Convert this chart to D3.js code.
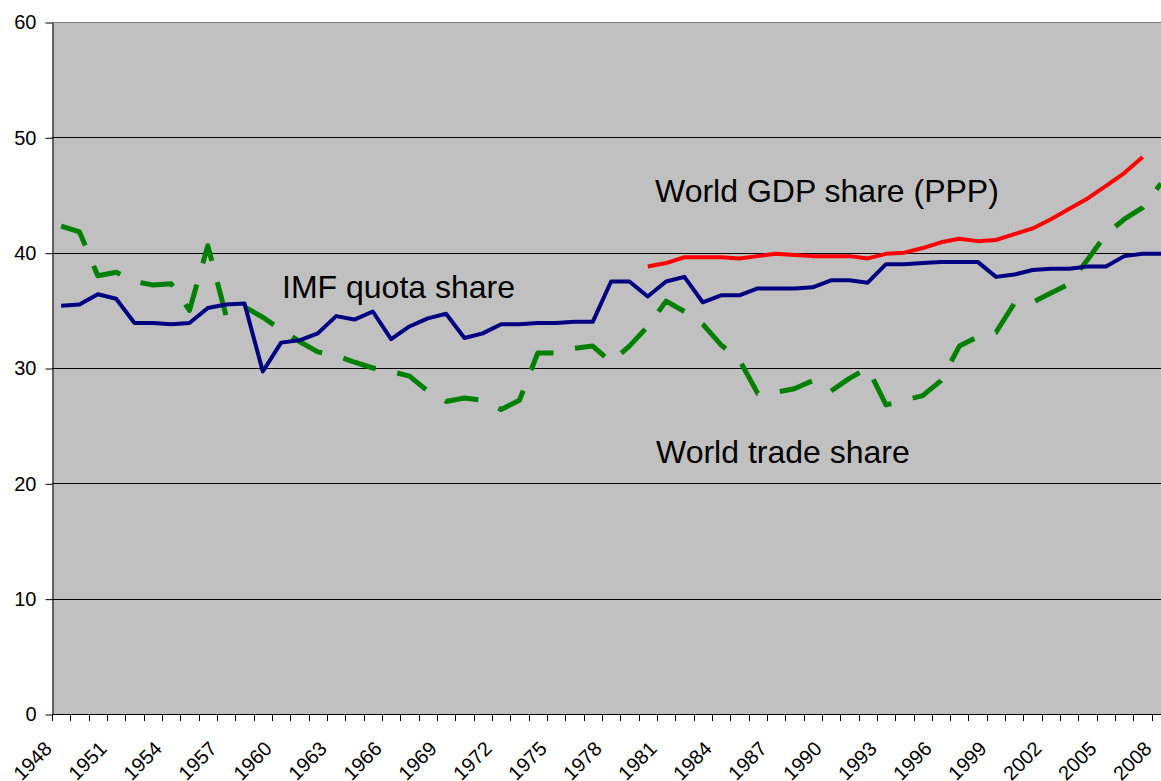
<!DOCTYPE html>
<html>
<head>
<meta charset="utf-8">
<script src="https://cdn.jsdelivr.net/npm/d3@7"></script>
<style>
  html, body { margin: 0; padding: 0; background: #fff; overflow: hidden; }
  svg { display: block; font-family: "Liberation Sans", Arial, sans-serif; }
</style>
</head>
<body>
<div id="chart"></div>
<script>
// categories (one per year, the last one is an empty slot cut off at the right edge)
var years = [1948, 1949, 1950, 1951, 1952, 1953, 1954, 1955, 1956, 1957,
  1958, 1959, 1960, 1961, 1962, 1963, 1964, 1965, 1966, 1967,
  1968, 1969, 1970, 1971, 1972, 1973, 1974, 1975, 1976, 1977,
  1978, 1979, 1980, 1981, 1982, 1983, 1984, 1985, 1986, 1987,
  1988, 1989, 1990, 1991, 1992, 1993, 1994, 1995, 1996, 1997,
  1998, 1999, 2000, 2001, 2002, 2003, 2004, 2005, 2006, 2007,
  2008, 2009];

var tickLabels = ['1948', '1951', '1954', '1957', '1960', '1963', '1966', '1969',
  '1972', '1975', '1978', '1981', '1984', '1987', '1990', '1993', '1996', '1999',
  '2002', '2005', '2008'];

var yTicks = [0, 10, 20, 30, 40, 50, 60];

// shares in percent, 1948 .. 2008
var imfQuota = [35.4, 35.5, 36.4, 36.0, 33.9, 33.9, 33.8, 33.9, 35.2, 35.5,
  35.6, 29.7, 32.2, 32.4, 33.0, 34.5, 34.2, 34.9, 32.5, 33.6,
  34.3, 34.7, 32.6, 33.0, 33.8, 33.8, 33.9, 33.9, 34.0, 34.0,
  37.5, 37.5, 36.2, 37.5, 37.9, 35.7, 36.3, 36.3, 36.9, 36.9,
  36.9, 37.0, 37.6, 37.6, 37.4, 39.0, 39.0, 39.1, 39.2, 39.2,
  39.2, 37.9, 38.1, 38.5, 38.6, 38.6, 38.8, 38.8, 39.7, 39.9,
  39.9];

var worldTrade = [42.3, 41.8, 38.0, 38.3, 37.5, 37.2, 37.3, 35.0, 40.6, 34.5,
  35.3, 34.4, 33.3, 32.3, 31.4, 31.1, 30.5, 30.0, 29.7, 29.3,
  28.0, 27.1, 27.4, 27.2, 26.4, 27.2, 31.3, 31.3, 31.7, 31.9,
  30.5, 31.9, 33.6, 35.8, 34.9, 33.8, 32.0, 30.7, 27.8, 27.9,
  28.2, 28.9, 28.0, 29.1, 30.0, 26.8, 27.2, 27.6, 28.9, 31.9,
  32.7, 33.1, 35.6, 35.7, 36.5, 37.3, 39.4, 41.6, 42.9, 43.9,
  46.0];

// PPP series only starts in 1980
var worldGdp = [null, null, null, null, null, null, null, null, null, null,
  null, null, null, null, null, null, null, null, null, null,
  null, null, null, null, null, null, null, null, null, null,
  null, null, 38.8, 39.1, 39.6, 39.6, 39.6, 39.5, 39.7, 39.9,
  39.8, 39.7, 39.7, 39.7, 39.5, 39.9, 40.0, 40.4, 40.9, 41.2,
  41.0, 41.1, 41.6, 42.1, 42.9, 43.8, 44.7, 45.8, 46.9, 48.3];

var width = 1161;
var height = 781;
var margins = { top: 22, left: 52, bottom: 67 };
var bandWidth = 18.33;

var svg = d3.select('#chart').append('svg')
  .attr('width', width)
  .attr('height', height);

var x = d3.scaleBand()
  .domain(years)
  .range([margins.left, margins.left + years.length * bandWidth])
  .padding(0);

var y = d3.scaleLinear()
  .domain([0, 60])
  .range([height - margins.bottom, margins.top]);

var plotRight = x.range()[1];

function cx(year) {
  return x(year) + x.bandwidth() / 2;
}

// plot area background
svg.append('rect')
  .attr('x', margins.left)
  .attr('y', y(60))
  .attr('width', plotRight - margins.left)
  .attr('height', y(0) - y(60))
  .attr('fill', '#c0c0c0');

// gridlines
svg.append('g')
  .selectAll('line')
  .data(yTicks.filter(function(d) { return d > 0; }))
  .enter().append('line')
  .attr('x1', margins.left)
  .attr('x2', plotRight)
  .attr('y1', function(d) { return Math.round(y(d)) + 0.5; })
  .attr('y2', function(d) { return Math.round(y(d)) + 0.5; })
  .attr('stroke', function(d) { return d === 60 ? '#808080' : '#000'; })
  .attr('stroke-width', 1);

// y axis
var yAxis = d3.axisLeft(y)
  .tickValues(yTicks)
  .tickSizeInner(7)
  .tickSizeOuter(0)
  .tickPadding(9);

var yAxisG = svg.append('g')
  .attr('transform', 'translate(' + (margins.left + 0.5) + ',0.5)')
  .call(yAxis);
yAxisG.selectAll('text')
  .attr('font-size', 20)
  .attr('font-family', '"Liberation Sans", Arial, sans-serif')
  .attr('fill', '#000');
yAxisG.selectAll('line, path').attr('stroke', '#000');

// x axis: ticks sit between categories
var x0 = y(0);
svg.append('line')
  .attr('x1', margins.left)
  .attr('x2', plotRight)
  .attr('y1', Math.round(x0) + 0.5)
  .attr('y2', Math.round(x0) + 0.5)
  .attr('stroke', '#000');

svg.append('g')
  .selectAll('line')
  .data(years)
  .enter().append('line')
  .attr('x1', function(d) { return Math.round(x(d)) + 0.5; })
  .attr('x2', function(d) { return Math.round(x(d)) + 0.5; })
  .attr('y1', Math.round(x0))
  .attr('y2', Math.round(x0) + 7)
  .attr('stroke', '#000');

svg.append('g')
  .selectAll('text')
  .data(tickLabels)
  .enter().append('text')
  .attr('transform', function(d) {
    return 'translate(' + (cx(+d) - 8) + ',' + (x0 + 36) + ') rotate(-45)';
  })
  .attr('text-anchor', 'end')
  .attr('font-size', 20)
  .attr('fill', '#000')
  .text(function(d) { return d; });

// series
function drawLine(values, color, dash, strokeWidth) {
  var line = d3.line()
    .defined(function(d) { return d != null; })
    .x(function(d, i) { return cx(years[i]); })
    .y(function(d) { return y(d); });

  svg.append('path')
    .datum(values)
    .attr('d', line)
    .attr('fill', 'none')
    .attr('stroke', color)
    .attr('stroke-width', strokeWidth)
    .attr('stroke-linejoin', 'round')
    .attr('stroke-dasharray', dash);
}

drawLine(worldTrade, '#008000', '34,22', 5);
drawLine(imfQuota, '#000080', null, 4);
drawLine(worldGdp, '#ff0000', null, 4);

// series labels
var labels = [
  { text: 'IMF quota share', x: 282, v: 36.05 },
  { text: 'World GDP share (PPP)', x: 655, v: 44.4 },
  { text: 'World trade share', x: 656, v: 21.75 }
];

svg.append('g')
  .selectAll('text')
  .data(labels)
  .enter().append('text')
  .attr('x', function(d) { return d.x; })
  .attr('y', function(d) { return y(d.v); })
  .attr('font-size', 32)
  .attr('fill', '#000')
  .text(function(d) { return d.text; });
</script>
</body>
</html>
